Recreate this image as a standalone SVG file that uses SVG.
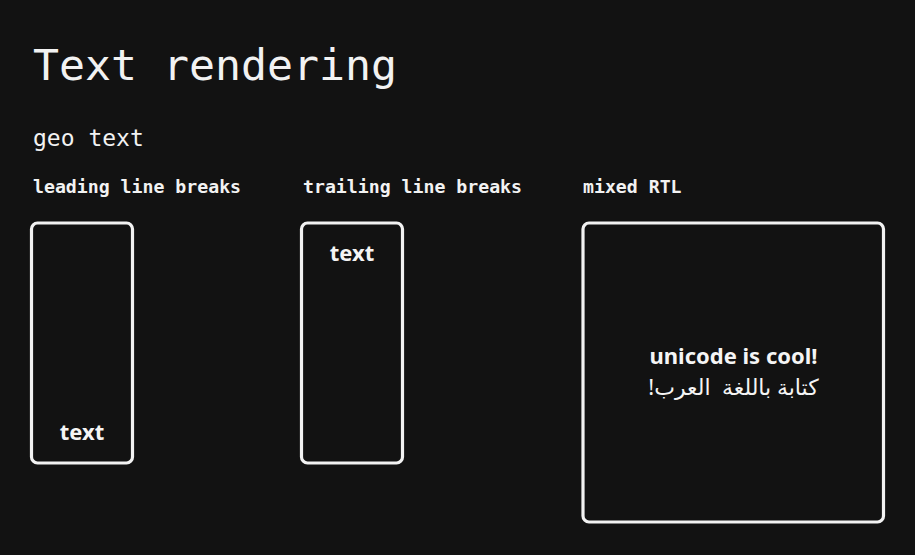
<svg xmlns="http://www.w3.org/2000/svg" width="915" height="555" viewBox="0 0 915 555">
<style>
.mono{font-family:"DejaVu Sans Mono","Liberation Mono",monospace;fill:#f2f2f2}
.lbl{font-size:18.2px;font-weight:bold}
.box{fill:#121212;stroke:#f2f2f2;stroke-width:3.2}
.hand{font-family:"Noto Sans","Liberation Sans",sans-serif;font-weight:bold;fill:#f5f5f5;text-anchor:middle}
</style>
<rect width="915" height="555" fill="#121212"/>
<text class="mono" x="33" y="80" font-size="43.2">Text rendering</text>
<text class="mono" x="33" y="146" font-size="23">geo text</text>
<text class="mono lbl" x="33" y="193">leading line breaks</text>
<text class="mono lbl" x="303" y="193">trailing line breaks</text>
<text class="mono lbl" x="583" y="193">mixed RTL</text>
<g id="node-leading">
<rect class="box" x="31.5" y="223" width="101" height="240" rx="6"/>
<text class="hand" x="82" y="440" font-size="22">text</text>
</g>
<g id="node-trailing">
<rect class="box" x="301.5" y="223" width="101" height="240" rx="6"/>
<text class="hand" x="352" y="261" font-size="22">text</text>
</g>
<g id="node-rtl">
<rect class="box" x="583" y="223" width="300.5" height="299" rx="6"/>
<text class="hand" x="733.5" y="364" font-size="22">unicode is cool!</text>
<text x="733.5" y="395" font-size="22" font-family="'Noto Sans','DejaVu Sans',sans-serif" fill="#f5f5f5" text-anchor="middle" direction="rtl" unicode-bidi="embed" style="white-space:pre">كتابة باللغة  العرب!</text>
</g>
<g id="connectors"></g>
</svg>
